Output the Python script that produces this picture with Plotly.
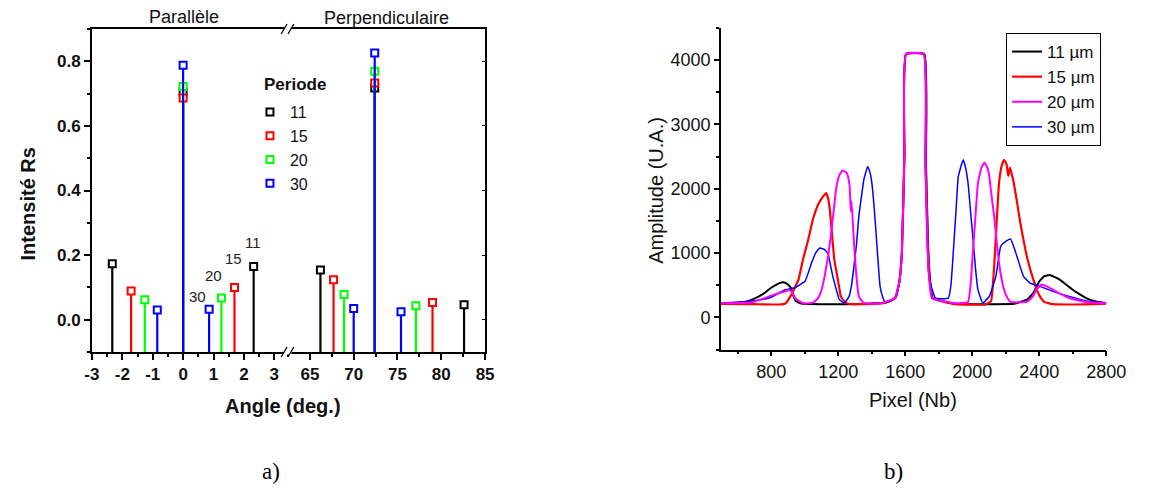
import plotly.graph_objects as go

# ---------------- data : left chart (stems) ----------------
periods = ["11", "15", "20", "30"]
stem_colors = ["#000000", "#ff0000", "#00ff00", "#0000ff"]

par_x = {"11": [-2.33, 0.0, 2.32], "15": [-1.71, 0.0, 1.69],
         "20": [-1.26, 0.0, 1.26], "30": [-0.85, 0.0, 0.855]}
par_y = {"11": [0.173, 0.705, 0.165], "15": [0.089, 0.686, 0.100],
         "20": [0.062, 0.722, 0.067], "30": [0.030, 0.788, 0.032]}
perp_x = {"11": [66.2, 72.4, 82.6], "15": [67.7, 72.4, 79.0],
          "20": [68.9, 72.4, 77.1], "30": [70.0, 72.4, 75.4]}
perp_y = {"11": [0.154, 0.717, 0.046], "15": [0.124, 0.733, 0.053],
          "20": [0.078, 0.769, 0.043], "30": [0.035, 0.826, 0.025]}

order_labels = ["11", "15", "20", "30"]
order_label_x = [2.3, 1.67, 1.0, 0.47]
order_label_y = [0.24, 0.19, 0.136, 0.071]

par_tickvals = [-3, -2, -1, 0, 1, 2, 3]
par_ticktext = ["-3", "-2", "-1", "0", "1", "2", "3"]
perp_tickvals = [65, 70, 75, 80, 85]
perp_ticktext = ["65", "70", "75", "80", "85"]

# ---------------- data : right chart (spectra) ----------------
s11_x = [500, 600, 650, 700, 750, 800, 840, 866, 890, 915, 944, 980, 1100, 1300, 1480, 1540, 1565, 1580, 1595, 1605,
         1714, 1724, 1737, 1748, 1765, 1900, 2100, 2250, 2330, 2365, 2400, 2430, 2462, 2490, 2520, 2560, 2600, 2640,
         2680, 2720, 2760, 2800]
s11_y = [220, 225, 245, 290, 360, 460, 520, 544, 530, 470, 260, 215, 205, 205, 230, 300, 550, 1000, 2500, 4095,
         4095, 2400, 1100, 600, 300, 210, 205, 210, 280, 380, 560, 640, 660, 630, 590, 510, 430, 360,
         300, 260, 235, 220]

s15_x = [500, 700, 850, 885, 920, 963, 990, 1021, 1050, 1080, 1110, 1128, 1140, 1150, 1177, 1200, 1216, 1240, 1255,
         1300, 1480, 1540, 1565, 1580, 1595, 1605, 1712, 1722, 1735, 1745, 1762, 1900, 2080, 2112, 2131, 2145, 2160,
         2175, 2190, 2205, 2215, 2225, 2248, 2270, 2287, 2310, 2326, 2345, 2365, 2385, 2404, 2430, 2480, 2600, 2800]
s15_y = [210, 205, 200, 215, 350, 586, 900, 1207, 1530, 1751, 1880, 1933, 1850, 1674, 897, 560, 326, 240, 215,
         205, 225, 300, 550, 1000, 2500, 4095, 4095, 2400, 1100, 600, 300, 205, 200, 250, 793, 1450, 2089,
         2350, 2451, 2380, 2200, 2330, 2089, 1750, 1467, 1150, 948, 760, 586, 430, 326, 240, 205, 200, 215]

s20_x = [500, 600, 690, 788, 850, 885, 905, 925, 944, 975, 1002, 1050, 1080, 1100, 1119, 1140, 1158, 1175, 1187,
         1205, 1226, 1245, 1255, 1268, 1275, 1280, 1290, 1304, 1323, 1352, 1450, 1540, 1565, 1580, 1595, 1605,
         1710, 1720, 1733, 1743, 1760, 1900, 1975, 1990, 2005, 2020, 2034, 2055, 2073, 2090, 2102, 2115, 2131,
         2145, 2160, 2175, 2190, 2210, 2229, 2326, 2360, 2384, 2413, 2440, 2482, 2530, 2579, 2630, 2676, 2740, 2800]
s20_y = [220, 222, 235, 326, 380, 404, 430, 390, 300, 240, 215, 230, 300, 420, 637, 950, 1311, 1700, 1984,
         2200, 2285, 2260, 2218, 2050, 1650, 1800, 1350, 793, 326, 224, 215, 300, 550, 1000, 2500, 4095,
         4095, 2400, 1100, 600, 300, 220, 240, 500, 1052, 1600, 2089, 2330, 2409, 2330, 2191, 1900, 1570,
         1200, 845, 600, 430, 300, 240, 240, 320, 430, 508, 490, 430, 360, 300, 265, 240, 228, 220]

s30_x = [500, 650, 788, 885, 944, 1002, 1041, 1065, 1090, 1115, 1138, 1155, 1168, 1190, 1207, 1236, 1265, 1280,
         1294, 1310, 1323, 1340, 1353, 1376, 1390, 1401, 1415, 1426, 1440, 1450, 1465, 1479, 1510, 1547, 1565,
         1580, 1595, 1605, 1710, 1720, 1733, 1743, 1781, 1858, 1873, 1888, 1903, 1917, 1946, 1960, 1975, 1990,
         2005, 2020, 2034, 2063, 2102, 2141, 2170, 2200, 2229, 2267, 2306, 2345, 2404, 2482, 2579, 2676, 2800]
s30_y = [220, 245, 300, 430, 465, 560, 845, 1000, 1078, 1060, 1000, 800, 637, 420, 275, 224, 326, 500,
         793, 1150, 1570, 1900, 2140, 2347, 2250, 2089, 1700, 1311, 800, 482, 320, 240, 250, 326, 550,
         1000, 2500, 4095, 4095, 2400, 1100, 600, 300, 300, 500, 1052, 1650, 2191, 2451, 2330, 2089, 1650,
         1207, 750, 430, 224, 326, 637, 1104, 1180, 1218, 948, 637, 534, 482, 404, 326, 260, 224]

spec_names = ["11 µm", "15 µm", "20 µm", "30 µm"]

# ---------------- figure ----------------
W, H = 1149, 498
def px(v):
    return v / W
def py(v):
    return 1 - v / H

FONT = "Liberation Sans, Arial, sans-serif"
Y_BOTTOM = -0.1

fig = go.Figure()

def stems(xs, ys):
    sx, sy = [], []
    for a, b in zip(xs, ys):
        sx += [a, a, None]
        sy += [Y_BOTTOM, b, None]
    return sx, sy

for p, c in zip(periods, stem_colors):
    sx, sy = stems(par_x[p], par_y[p])
    fig.add_trace(go.Scatter(x=sx, y=sy, mode="lines", line=dict(color=c, width=2.2),
                             showlegend=False, hoverinfo="skip", xaxis="x", yaxis="y"))
    fig.add_trace(go.Scatter(x=par_x[p], y=par_y[p], mode="markers", name=p, legend="legend",
                             marker=dict(symbol="square", size=7, color="white",
                                         line=dict(color=c, width=2)),
                             xaxis="x", yaxis="y"))
    sx, sy = stems(perp_x[p], perp_y[p])
    fig.add_trace(go.Scatter(x=sx, y=sy, mode="lines", line=dict(color=c, width=2.2),
                             showlegend=False, hoverinfo="skip", xaxis="x2", yaxis="y2"))
    fig.add_trace(go.Scatter(x=perp_x[p], y=perp_y[p], mode="markers", name=p, showlegend=False,
                             marker=dict(symbol="square", size=7, color="white",
                                         line=dict(color=c, width=2)),
                             xaxis="x2", yaxis="y2"))

spec = [(s11_x, s11_y, "#000000", 2.0, 1), (s15_x, s15_y, "#ff0000", 2.2, 2),
        (s30_x, s30_y, "#0000ff", 1.5, 4), (s20_x, s20_y, "#ff00ff", 2.0, 3)]
for xs, ys, c, w, rank in spec:
    fig.add_trace(go.Scatter(x=xs, y=ys, mode="lines", name=spec_names[rank - 1], legend="legend2",
                             legendrank=rank, line=dict(color=c, width=w, shape="spline", smoothing=0.35),
                             xaxis="x3", yaxis="y3"))

axis_common = dict(showline=True, linecolor="#000", linewidth=1.5, showgrid=False, zeroline=False,
                   ticks="outside", tickwidth=1.5, tickcolor="#000")
bold_tick = dict(family=FONT, size=17, color="#111", weight="bold")
norm_tick = dict(family=FONT, size=18, color="#111")

left_dom_y = [py(352), py(29)]
right_dom_y = [py(349.5), py(28)]

fig.update_layout(
    width=W, height=H, margin=dict(l=0, r=0, t=0, b=0),
    paper_bgcolor="white", plot_bgcolor="white",
    font=dict(family=FONT, color="#111"),
    xaxis=dict(domain=[px(86), px(287)], range=[-3, 3.45], tickmode="array", ticklen=6,
               tickvals=par_tickvals, ticktext=par_ticktext, anchor="y", mirror=True,
               minor=dict(dtick=0.5, tick0=0, ticks="outside", ticklen=3, tickcolor="#000"),
               tickfont=bold_tick, **axis_common),
    xaxis2=dict(domain=[px(287), px(489)], range=[62.5, 85], tickmode="array", ticklen=6,
                tickvals=perp_tickvals, ticktext=perp_ticktext, anchor="y2", mirror=True,
                minor=dict(dtick=2.5, tick0=0, ticks="outside", ticklen=3, tickcolor="#000"),
                tickfont=bold_tick, **axis_common),
    yaxis=dict(domain=left_dom_y, range=[-0.1, 0.9], tick0=0, dtick=0.2, tickformat=".1f", ticklen=6,
               anchor="x", minor=dict(dtick=0.1, tick0=0, ticks="outside", ticklen=3, tickcolor="#000"),
               tickfont=bold_tick, **axis_common),
    yaxis2=dict(domain=left_dom_y, range=[-0.1, 0.9], tick0=0, dtick=0.2, anchor="x2", side="right",
                showticklabels=False, showline=True, linecolor="#000", linewidth=1.5, showgrid=False,
                zeroline=False, ticks="inside", ticklen=3, tickcolor="#000"),
    xaxis3=dict(domain=[px(730.7), px(1125.7)], range=[500, 2800], tick0=0, dtick=400, anchor="y3",
                ticklen=5, minor=dict(dtick=200, tick0=0, ticks="outside", ticklen=3, tickcolor="#000"),
                tickfont=norm_tick, **axis_common),
    yaxis3=dict(domain=right_dom_y, range=[-500, 4500], tick0=0, dtick=1000, anchor="x3",
                ticklen=5, minor=dict(dtick=500, tick0=0, ticks="outside", ticklen=3, tickcolor="#000"),
                tickfont=norm_tick, **axis_common),
    legend=dict(x=px(248), y=py(95), xanchor="left", yanchor="top", bgcolor="rgba(0,0,0,0)",
                font=dict(family=FONT, size=16, color="#111"), tracegroupgap=0),
    legend2=dict(x=px(1023), y=py(33), xanchor="left", yanchor="top", bgcolor="white",
                 bordercolor="#000", borderwidth=1,
                 font=dict(family=FONT, size=17, color="#111")),
)

ann = [
    dict(text="Parallèle", x=px(180), y=py(17), size=18),
    dict(text="Perpendiculaire", x=px(388), y=py(18), size=18),
    dict(text="<b>Periode</b>", x=px(294.5), y=py(84), size=17),
    dict(text="<b>Angle (deg.)</b>", x=px(282), y=py(406), size=20),
    dict(text="<b>Intensité Rs</b>", x=px(21), y=py(204), size=20, angle=-90),
    dict(text="Amplitude (U.A.)", x=px(664), y=py(190), size=20, angle=-90),
    dict(text="Pixel (Nb)", x=px(928), y=py(400), size=20),
]
for a in ann:
    fig.add_annotation(text=a["text"], x=a["x"], y=a["y"], xref="paper", yref="paper",
                       showarrow=False, textangle=a.get("angle", 0), xanchor="center", yanchor="middle",
                       font=dict(family=FONT, size=a["size"], color="#111"))
for t, xx in [("a)", 258), ("b)", 919)]:
    fig.add_annotation(text=t, x=px(xx), y=py(486), xref="paper", yref="paper", showarrow=False,
                       font=dict(family="Liberation Serif, Times New Roman, serif", size=23, color="#000"))
for t, xx, yy in zip(order_labels, order_label_x, order_label_y):
    fig.add_annotation(text=t, x=xx, y=yy, xref="x", yref="y", showarrow=False,
                       font=dict(family=FONT, size=15, color="#222"))

# axis-break marks
shapes = []
for yb in (29, 352):
    shapes.append(dict(type="rect", xref="paper", yref="paper", x0=px(283), x1=px(290.5),
                       y0=py(yb + 2.5), y1=py(yb - 2.5), fillcolor="white", line=dict(width=0),
                       layer="above"))
    for x0 in (280, 287):
        shapes.append(dict(type="line", xref="paper", yref="paper", x0=px(x0), y0=py(yb + 5),
                           x1=px(x0 + 6), y1=py(yb - 5), line=dict(color="#000", width=1.3),
                           layer="above"))
fig.update_layout(shapes=shapes)

fig.write_html("out.html")
